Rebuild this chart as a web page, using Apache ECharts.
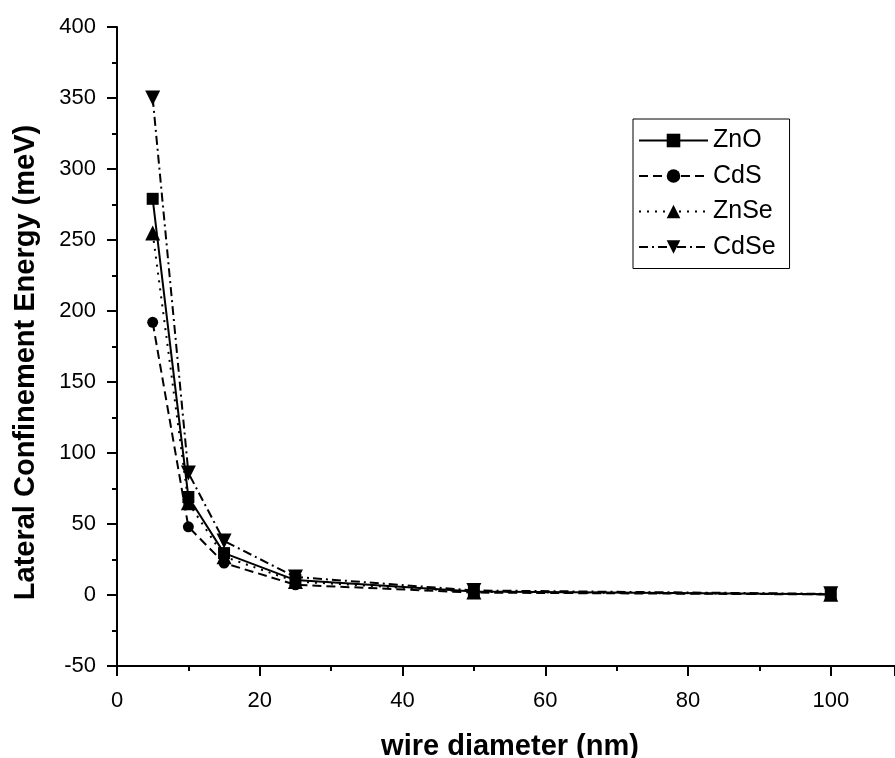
<!DOCTYPE html>
<html>
<head>
<meta charset="utf-8">
<script src="https://cdn.jsdelivr.net/npm/echarts@6/dist/echarts.min.js"></script>
<style>
html,body{margin:0;padding:0;background:#fff;overflow:hidden;}
#chart{width:895px;height:758px;}
</style>
</head>
<body>
<div id="chart"></div>
<script>
const diameters = [5, 10, 15, 25, 50, 100];
const seriesNames = ['ZnO', 'CdS', 'ZnSe', 'CdSe'];
const znO  = [279, 69, 29.5, 10.5, 2.4, 0.6];
const cdS  = [192, 48, 22.5, 7.2, 1.7, 0.4];
const znSe = [255, 65, 27, 9.5, 2.2, 0.5];
const cdSe = [350, 86, 38, 12.7, 3.2, 0.8];
const xTicks = [0, 20, 40, 60, 80, 100];
const yTicks = [-50, 0, 50, 100, 150, 200, 250, 300, 350, 400];

const seriesValues = [znO, cdS, znSe, cdSe];
const symbols = ['rect', 'circle', 'triangle', 'triangle'];
const rotations = [0, 0, 0, 180];
const dashTypes = ['solid', [9, 5], [2, 6], [9, 4, 2, 4]];
const symbolSizes = [12, 11, 15, 15];

const chart = echarts.init(document.getElementById('chart'));
const font = 'Liberation Sans, Arial, sans-serif';

const series = seriesNames.map((name, i) => ({
  name: name,
  type: 'line',
  data: diameters.map((d, j) => [d, seriesValues[i][j]]),
  symbol: symbols[i],
  symbolRotate: rotations[i],
  symbolSize: symbolSizes[i],
  showAllSymbol: true,
  lineStyle: { color: '#000', width: 2, type: dashTypes[i] },
  itemStyle: { color: '#000' },
  animation: false,
  z: 2 + i
}));

chart.setOption({
  animation: false,
  backgroundColor: '#fff',
  grid: { left: 117, right: 0, top: 27, bottom: 92, containLabel: false, outerBoundsMode: 'none' },
  legend: {
    data: seriesNames,
    orient: 'vertical',
    left: 633,
    top: 119,
    padding: [9, 14, 9, 5],
    itemWidth: 69,
    itemHeight: 17,
    itemGap: 10.5,
    borderColor: '#000',
    borderWidth: 1,
    textStyle: { fontFamily: font, fontSize: 25, color: '#000' },
    inactiveColor: '#000'
  },
  xAxis: {
    type: 'value',
    min: xTicks[0],
    max: 109,
    interval: xTicks[1] - xTicks[0],
    name: 'wire diameter (nm)',
    nameLocation: 'middle',
    nameGap: 66,
    nameTextStyle: { fontFamily: font, fontSize: 29, fontWeight: 'bold', color: '#000', padding: [0, 0, 0, 8] },
    axisLine: { onZero: false, lineStyle: { color: '#000', width: 2 } },
    axisTick: { inside: false, length: 10, lineStyle: { color: '#000', width: 2 } },
    minorTick: { show: true, splitNumber: 2, length: 5, lineStyle: { color: '#000', width: 2 } },
    axisLabel: { fontFamily: font, fontSize: 22, color: '#000', margin: 24, showMaxLabel: false },
    splitLine: { show: false }
  },
  yAxis: {
    type: 'value',
    min: yTicks[0],
    max: yTicks[yTicks.length - 1],
    interval: yTicks[1] - yTicks[0],
    name: 'Lateral Confinement Energy (meV)',
    nameLocation: 'middle',
    nameGap: 77,
    nameTextStyle: { fontFamily: font, fontSize: 29, fontWeight: 'bold', color: '#000', padding: [0, 32, 0, 0] },
    axisLine: { onZero: false, lineStyle: { color: '#000', width: 2 } },
    axisTick: { inside: false, length: 10, lineStyle: { color: '#000', width: 2 } },
    minorTick: { show: true, splitNumber: 2, length: 5, lineStyle: { color: '#000', width: 2 } },
    axisLabel: { fontFamily: font, fontSize: 22, color: '#000', margin: 21 },
    splitLine: { show: false }
  },
  series: series
});
</script>
</body>
</html>
